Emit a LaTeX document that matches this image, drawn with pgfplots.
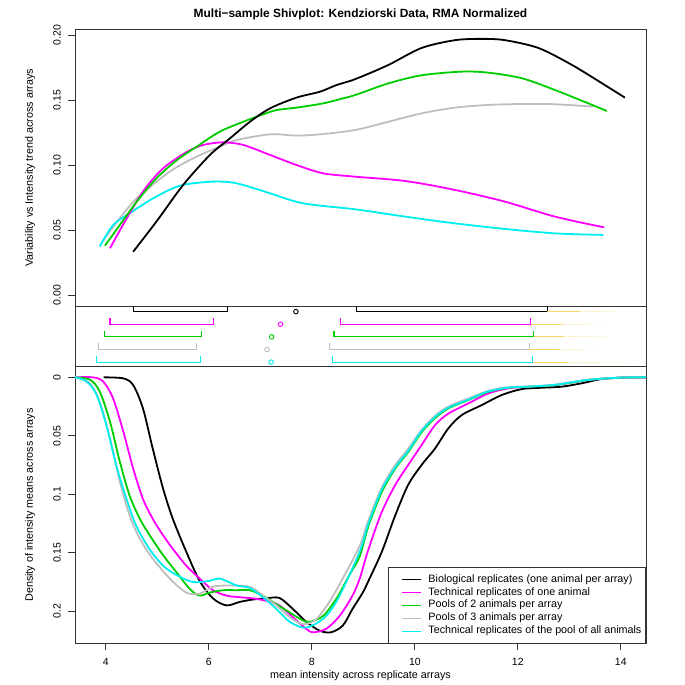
\documentclass[border=0pt]{standalone}
\usepackage{fontspec}
\setmainfont{Liberation Sans}
\usepackage{pgfplots}
\pgfplotsset{compat=1.18}
\definecolor{rgreen}{RGB}{0,205,0}
\definecolor{rgray}{RGB}{190,190,190}
\definecolor{rcyan}{RGB}{0,238,238}
\definecolor{rmag}{RGB}{255,0,255}
\definecolor{rgold}{RGB}{245,205,70}
\begin{document}
\begin{tikzpicture}
\path[use as bounding box] (0bp,0bp) rectangle (685bp,685bp);
\pgfplotsset{
  panel/.style={scale only axis, width=571bp, anchor=south west, xmin=3.40, xmax=14.49,
    axis line style={line width=0.9bp, black!80},
    tick style={line width=0.8bp, black!80},
    tick align=outside, major tick length=7bp,
    tick pos=left,
    ticklabel style={font=\fontsize{10.5}{12}\selectfont},
    /pgf/number format/assume math mode=true,
    yticklabel style={rotate=90, anchor=south, inner sep=0pt, xshift=-0bp},
  },
  curve/.style={line width=1.8bp, smooth, no marks},
  brk/.style={line width=1.1bp, no marks},
  dotz/.style={line width=1.1bp, no marks, rgold},
}
% ---------------- top panel ----------------
\begin{axis}[panel, at={(75bp,378.3bp)}, height=277.7bp,
  ymin=-0.009, ymax=0.2046, xtick=\empty,
  ytick={0,0.05,0.1,0.15,0.2}, yticklabels={0.00,0.05,0.10,0.15,0.20},
  yticklabel shift=7bp]
\addplot[curve, rgray] coordinates {(3.93,0.041) (4.27,0.059) (4.60,0.0744) (5.24,0.0949) (5.76,0.1064) (6.21,0.114) (6.54,0.1192) (7.19,0.1236) (7.70,0.1226) (8.16,0.1236) (8.84,0.1269) (9.49,0.1333) (10.13,0.1397) (10.78,0.1441) (11.43,0.1462) (12.08,0.1469) (12.72,0.1467) (13.46,0.1449)};
\addplot[curve, rcyan] coordinates {(3.88,0.0372) (4.14,0.0538) (4.46,0.0628) (4.92,0.0744) (5.44,0.0841) (6.08,0.0872) (6.54,0.0859) (7.19,0.0782) (7.83,0.0705) (8.84,0.0659) (9.81,0.0603) (10.78,0.0551) (11.75,0.0508) (12.72,0.0474) (13.66,0.0462)};
\addplot[curve, rmag] coordinates {(4.08,0.0359) (4.33,0.0538) (4.72,0.0795) (5.11,0.0974) (5.57,0.110) (5.89,0.1154) (6.28,0.1174) (6.67,0.1154) (7.19,0.1077) (7.70,0.100) (8.22,0.0936) (8.84,0.091) (9.81,0.0877) (10.78,0.0808) (11.75,0.0718) (12.72,0.0603) (13.68,0.052)};
\addplot[curve, rgreen] coordinates {(3.98,0.0379) (4.27,0.0538) (4.60,0.0718) (4.98,0.0897) (5.37,0.1035) (5.76,0.1140) (6.21,0.1256) (6.67,0.1333) (7.06,0.139) (7.32,0.1423) (7.70,0.1441) (8.22,0.1474) (8.61,0.1513) (8.84,0.1538) (9.49,0.1628) (10.13,0.169) (10.91,0.1718) (11.43,0.171) (12.08,0.1667) (12.72,0.1577) (13.37,0.1474) (13.73,0.1415)};
\addplot[curve, black] coordinates {(4.53,0.0333) (4.98,0.0564) (5.50,0.0846) (6.02,0.1077) (6.41,0.1205) (6.80,0.1333) (7.19,0.1436) (7.70,0.1518) (8.16,0.1564) (8.48,0.1615) (8.84,0.166) (9.49,0.177) (10.13,0.190) (10.78,0.196) (11.30,0.197) (11.75,0.196) (12.40,0.190) (13.05,0.177) (13.69,0.1615) (14.08,0.1518)};
\end{axis}
% ---------------- middle panel ----------------
\begin{axis}[panel, at={(75bp,318.3bp)}, height=60bp,
  ymin=0.64, ymax=5.39, xtick=\empty, ytick=\empty]
% black row 5
\addplot[brk, black] coordinates {(4.54,5.5) (4.54,5) (6.37,5) (6.37,5.5)};
\addplot[brk, black] coordinates {(8.86,5.5) (8.86,5) (12.57,5) (12.57,5.5)};
\addplot[only marks, mark=o, mark size=2.3bp, black, mark options={line width=0.9bp}] coordinates {(7.69,5)};
\addplot[dotz, opacity=0.8] coordinates {(12.57,5) (13.2,5)};
\addplot[dotz, opacity=0.5, densely dotted] coordinates {(13.2,5) (13.7,5)};
\addplot[dotz, opacity=0.35, dotted] coordinates {(13.7,5) (14.10,5)};
% magenta row 4
\addplot[brk, rmag] coordinates {(4.08,4.5) (4.08,4) (6.09,4) (6.09,4.5)};
\addplot[brk, rmag] coordinates {(8.55,4.5) (8.55,4) (12.25,4) (12.25,4.5)};
\addplot[only marks, mark=o, mark size=2.3bp, rmag, mark options={line width=0.9bp}] coordinates {(7.39,4)};
\addplot[dotz, opacity=0.8] coordinates {(12.25,4) (12.85,4)};
\addplot[dotz, opacity=0.5, densely dotted] coordinates {(12.85,4) (13.3,4)};
\addplot[dotz, opacity=0.35, dotted] coordinates {(13.3,4) (13.72,4)};
% green row 3
\addplot[brk, rgreen] coordinates {(3.98,3.5) (3.98,3) (5.86,3) (5.86,3.5)};
\addplot[brk, rgreen] coordinates {(8.43,3.5) (8.43,3) (12.31,3) (12.31,3.5)};
\addplot[only marks, mark=o, mark size=2.3bp, rgreen, mark options={line width=0.9bp}] coordinates {(7.22,3)};
\addplot[dotz, opacity=0.8] coordinates {(12.31,3) (12.9,3)};
\addplot[dotz, opacity=0.5, densely dotted] coordinates {(12.9,3) (13.35,3)};
\addplot[dotz, opacity=0.35, dotted] coordinates {(13.35,3) (13.75,3)};
% gray row 2
\addplot[brk, rgray] coordinates {(3.86,2.5) (3.86,2) (5.76,2) (5.76,2.5)};
\addplot[brk, rgray] coordinates {(8.34,2.5) (8.34,2) (12.22,2) (12.22,2.5)};
\addplot[only marks, mark=o, mark size=2.3bp, rgray, mark options={line width=0.9bp}] coordinates {(7.13,2)};
\addplot[dotz, opacity=0.8] coordinates {(12.22,2) (12.8,2)};
\addplot[dotz, opacity=0.5, densely dotted] coordinates {(12.8,2) (13.2,2)};
\addplot[dotz, opacity=0.35, dotted] coordinates {(13.2,2) (13.48,2)};
% cyan row 1
\addplot[brk, rcyan] coordinates {(3.81,1.5) (3.81,1) (5.83,1) (5.83,1.5)};
\addplot[brk, rcyan] coordinates {(8.40,1.5) (8.40,1) (12.29,1) (12.29,1.5)};
\addplot[only marks, mark=o, mark size=2.3bp, rcyan, mark options={line width=0.9bp}] coordinates {(7.21,1)};
\addplot[dotz, opacity=0.8] coordinates {(12.29,1) (12.95,1)};
\addplot[dotz, opacity=0.5, densely dotted] coordinates {(12.95,1) (13.6,1)};
\addplot[dotz, opacity=0.35, dotted] coordinates {(13.6,1) (14.10,1)};
\end{axis}
% ---------------- bottom panel ----------------
\begin{axis}[panel, at={(75bp,41.7bp)}, height=276.6bp,
  y dir=reverse, ymin=-0.0091, ymax=0.2274,
  ytick={0,0.05,0.1,0.15,0.2}, yticklabels={0,0.05,0.1,0.15,0.2},
  yticklabel shift=7bp,
  xtick={4,6,8,10,12,14}, xticklabels={4,6,8,10,12,14},
  xticklabel shift=4bp,
  legend style={at={(rel axis cs:1,0)}, anchor=south east, draw=black!80, line width=0.8bp, fill=white,
    font=\fontsize{10.8}{12}\selectfont, inner xsep=3bp, inner ysep=5.5bp, row sep=0bp,
    cells={anchor=west}, nodes={inner sep=1.2bp, text height=8bp, text depth=2.5bp}},
  legend image code/.code={\path (0bp,0bp) (34bp,0bp); \draw[#1,line width=0.9bp] (10bp,0bp) -- (29bp,0bp);}]
\addplot[curve, black] coordinates {(3.955,0) (4.34,0.0009) (4.53,0.0066) (4.72,0.0266) (4.91,0.061) (5.11,0.095) (5.30,0.121) (5.56,0.149) (5.82,0.174) (6.08,0.189) (6.34,0.195) (6.60,0.192) (6.85,0.190) (7.11,0.189) (7.37,0.1886) (7.63,0.198) (7.89,0.209) (8.15,0.2166) (8.37,0.218) (8.60,0.2123) (8.79,0.198) (8.99,0.184) (9.10,0.174) (9.36,0.149) (9.62,0.118) (9.87,0.092) (10.13,0.075) (10.39,0.061) (10.65,0.0437) (10.91,0.0323) (11.30,0.0237) (11.69,0.0151) (12.08,0.010) (12.46,0.0089) (12.85,0.008) (13.24,0.0051) (13.63,0.0014) (14.02,0.0003) (14.49,0)};
\addplot[curve, rmag] coordinates {(3.40,0) (3.75,0) (3.95,0.0037) (4.14,0.018) (4.34,0.0466) (4.53,0.078) (4.72,0.104) (4.91,0.121) (5.11,0.135) (5.30,0.1466) (5.56,0.161) (5.82,0.172) (6.08,0.182) (6.34,0.1866) (6.60,0.188) (6.85,0.189) (7.11,0.191) (7.37,0.195) (7.63,0.205) (7.89,0.215) (8.02,0.218) (8.28,0.215) (8.54,0.204) (8.79,0.1866) (8.93,0.172) (9.10,0.147) (9.36,0.115) (9.62,0.092) (9.87,0.075) (10.13,0.058) (10.39,0.041) (10.65,0.031) (11.04,0.0223) (11.43,0.0137) (11.82,0.0094) (12.21,0.008) (12.72,0.0066) (13.37,0.0023) (14.02,0.0002) (14.49,0)};
\addplot[curve, rgreen] coordinates {(3.40,0) (3.69,0.002) (3.88,0.012) (4.08,0.038) (4.27,0.072) (4.46,0.101) (4.66,0.121) (4.85,0.135) (5.11,0.152) (5.37,0.1666) (5.63,0.181) (5.82,0.1866) (6.02,0.184) (6.28,0.182) (6.54,0.182) (6.79,0.182) (7.05,0.1866) (7.31,0.194) (7.57,0.201) (7.83,0.208) (7.96,0.209) (8.22,0.204) (8.48,0.189) (8.73,0.169) (8.93,0.153) (9.10,0.127) (9.36,0.098) (9.62,0.078) (9.87,0.064) (10.13,0.047) (10.39,0.035) (10.65,0.0266) (11.04,0.0194) (11.43,0.0123) (11.82,0.0089) (12.21,0.008) (12.72,0.0066) (13.37,0.0023) (14.02,0.0002) (14.49,0)};
\addplot[curve, rgray] coordinates {(3.40,0) (3.69,0.005) (3.88,0.021) (4.08,0.052) (4.27,0.089) (4.46,0.118) (4.66,0.138) (4.91,0.155) (5.24,0.172) (5.56,0.184) (5.82,0.185) (6.08,0.179) (6.41,0.178) (6.79,0.179) (7.05,0.1866) (7.31,0.195) (7.57,0.205) (7.83,0.211) (8.08,0.207) (8.34,0.192) (8.60,0.172) (8.93,0.144) (9.10,0.122) (9.36,0.094) (9.62,0.075) (9.87,0.061) (10.13,0.045) (10.39,0.033) (10.65,0.025) (11.04,0.018) (11.43,0.0115) (11.82,0.0085) (12.21,0.0078) (12.72,0.0062) (13.37,0.002) (14.02,0.0002) (14.49,0)};
\addplot[curve, rcyan] coordinates {(3.40,0) (3.63,0.0037) (3.82,0.015) (4.01,0.041) (4.20,0.075) (4.40,0.104) (4.59,0.127) (4.85,0.147) (5.11,0.161) (5.37,0.169) (5.69,0.175) (6.02,0.174) (6.21,0.172) (6.54,0.178) (6.79,0.180) (7.05,0.188) (7.31,0.198) (7.57,0.209) (7.83,0.214) (8.02,0.212) (8.28,0.204) (8.54,0.1866) (8.93,0.149) (9.10,0.125) (9.36,0.096) (9.62,0.077) (9.87,0.063) (10.13,0.046) (10.39,0.034) (10.65,0.026) (11.04,0.019) (11.43,0.012) (11.82,0.0087) (12.21,0.0079) (12.72,0.0064) (13.37,0.0021) (14.02,0.0002) (14.49,0)};
\legend{Biological replicates (one animal per array), Technical replicates of one animal, Pools of 2 animals per array, Pools of 3 animals per array, Technical replicates of the pool of all animals}
\end{axis}
\node[font=\bfseries\fontsize{12}{14}\selectfont] at (360.5bp,671bp) {Multi−sample Shivplot: Kendziorski Data, RMA Normalized};
\node[rotate=90, font=\fontsize{10.8}{12}\selectfont] at (30bp,517.2bp) {Variability vs Intensity trend across arrays};
\node[rotate=90, font=\fontsize{10.8}{12}\selectfont] at (30bp,180bp) {Density of intensity means across arrays};
\node[font=\fontsize{10.8}{12}\selectfont] at (360.5bp,9bp) {mean intensity across replicate arrays};
\end{tikzpicture}
\end{document}
